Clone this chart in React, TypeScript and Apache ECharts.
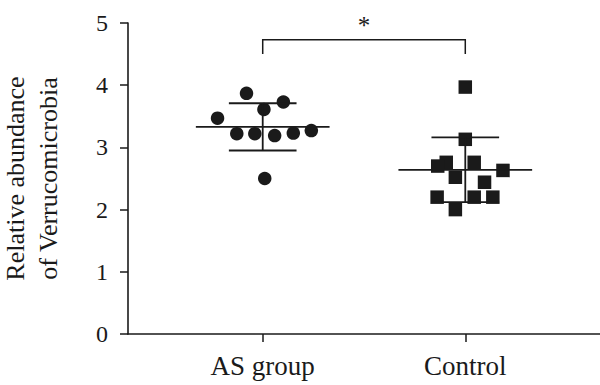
import React, { useEffect, useRef } from "react";
import * as echarts from "echarts";

const groups = ["AS group", "Control"];
const yTicks = [0, 1, 2, 3, 4, 5];

// AS group (circles): x jitter around group 0, and values
const asX = [-0.08, 0.102, 0.006, -0.223, -0.128, -0.039, 0.059, 0.151, 0.24, 0.01];
const asY = [3.87, 3.73, 3.61, 3.47, 3.22, 3.22, 3.19, 3.23, 3.27, 2.5];

// Control (squares): x jitter around group 1, and values
const ctX = [0, 0, -0.094, -0.136, 0.044, -0.049, 0.186, 0.095, -0.139, 0.044, 0.136, -0.049];
const ctY = [3.97, 3.13, 2.76, 2.7, 2.76, 2.52, 2.63, 2.44, 2.2, 2.2, 2.2, 2.0];

const means = [3.33, 2.64];
const sds = [0.38, 0.52];

const bracketFrom = 0;
const bracketTo = 1;
const bracketLow = 4.5;
const bracketHigh = 4.73;
const sigLabel = "*";

const FONT = "Liberation Serif";
const INK = "#1a1a1a";

export default function App() {
  const ref = useRef<HTMLDivElement>(null);
  useEffect(() => {
    if (!ref.current) return;
    const chart = echarts.init(ref.current, undefined, { renderer: "svg" });
    const asData = asX.map((x, i) => [0 + x, asY[i]]);
    const ctData = ctX.map((x, i) => [1 + x, ctY[i]]);
    const statData = means.map((m, i) => [i, m, sds[i]]);
    chart.setOption({
      animation: false,
      backgroundColor: "#ffffff",
      textStyle: { fontFamily: FONT },
      grid: {
        left: 128,
        right: 0,
        top: 23,
        bottom: 51,
        containLabel: false,
        outerBoundsMode: "none",
      },
      xAxis: {
        type: "value",
        min: -0.665,
        max: 1.665,
        splitLine: { show: false },
        axisLine: { show: true, onZero: false, lineStyle: { color: INK, width: 1.6 } },
        axisTick: {
          show: true,
          customValues: [0, 1],
          length: 8,
          lineStyle: { color: INK, width: 1.5 },
        },
        axisLabel: {
          customValues: [0, 1],
          formatter: (v: number) => groups[Math.round(v)] ?? "",
          color: INK,
          fontFamily: FONT,
          fontSize: 27,
          margin: 18,
        },
      },
      yAxis: {
        type: "value",
        min: 0,
        max: 5,
        interval: 1,
        splitLine: { show: false },
        axisLine: { show: true, onZero: false, lineStyle: { color: INK, width: 1.6 } },
        axisTick: { show: true, length: 8, lineStyle: { color: INK, width: 1.5 } },
        axisLabel: {
          color: INK,
          fontFamily: FONT,
          fontSize: 24,
          margin: 20,
          formatter: (v: number) => (yTicks.includes(v) ? String(v) : ""),
        },
        name: "Relative abundance\nof Verrucomicrobia",
        nameLocation: "middle",
        nameGap: 63,
        nameTextStyle: {
          color: INK,
          fontFamily: FONT,
          fontSize: 26,
          lineHeight: 33,
        },
      },
      series: [
        {
          type: "scatter",
          data: asData,
          symbol: "circle",
          symbolSize: 13.5,
          itemStyle: { color: INK, opacity: 1 },
          z: 3,
        },
        {
          type: "scatter",
          data: ctData,
          symbol: "rect",
          symbolSize: 13.5,
          itemStyle: { color: INK, opacity: 1 },
          z: 3,
        },
        {
          type: "custom",
          data: statData,
          dimensions: ["g", "m", "s"],
          encode: { x: "g", y: "m" },
          z: 4,
          renderItem: (params: any, api: any) => {
            const g = api.value("g");
            const m = api.value("m");
            const s = api.value("s");
            const meanL = api.coord([g - 0.33, m]);
            const meanR = api.coord([g + 0.33, m]);
            const upL = api.coord([g - 0.167, m + s]);
            const upR = api.coord([g + 0.167, m + s]);
            const loL = api.coord([g - 0.167, m - s]);
            const loR = api.coord([g + 0.167, m - s]);
            const top = api.coord([g, m + s]);
            const bot = api.coord([g, m - s]);
            const st = { stroke: INK, lineWidth: 1.8 };
            return {
              type: "group",
              children: [
                { type: "line", shape: { x1: meanL[0], y1: meanL[1], x2: meanR[0], y2: meanR[1] }, style: st },
                { type: "line", shape: { x1: upL[0], y1: upL[1], x2: upR[0], y2: upR[1] }, style: st },
                { type: "line", shape: { x1: loL[0], y1: loL[1], x2: loR[0], y2: loR[1] }, style: st },
                { type: "line", shape: { x1: top[0], y1: top[1], x2: bot[0], y2: bot[1] }, style: st },
              ],
            };
          },
        },
        {
          type: "custom",
          clip: false,
          data: [[bracketFrom, bracketLow, bracketTo, bracketHigh]],
          dimensions: ["a", "lo", "b", "hi"],
          encode: { x: ["a", "b"], y: ["lo", "hi"] },
          renderItem: (params: any, api: any) => {
            const a = api.value("a");
            const b = api.value("b");
            const lo = api.value("lo");
            const hi = api.value("hi");
            const p1 = api.coord([a, lo]);
            const p2 = api.coord([a, hi]);
            const p3 = api.coord([b, hi]);
            const p4 = api.coord([b, lo]);
            const mid = api.coord([(a + b) / 2, hi]);
            return {
              type: "group",
              children: [
                {
                  type: "polyline",
                  shape: { points: [p1, p2, p3, p4] },
                  style: { stroke: INK, lineWidth: 1.5, fill: null },
                },
                {
                  type: "text",
                  x: mid[0],
                  y: mid[1] - 2,
                  style: {
                    text: sigLabel,
                    fill: INK,
                    fontFamily: FONT,
                    fontSize: 25,
                    align: "center",
                    verticalAlign: "bottom",
                  },
                },
              ],
            };
          },
        },
      ],
    });
    return () => chart.dispose();
  }, []);
  return <div ref={ref} style={{ width: 600, height: 385, position: "absolute", left: 0, top: 0 }} />;
}
